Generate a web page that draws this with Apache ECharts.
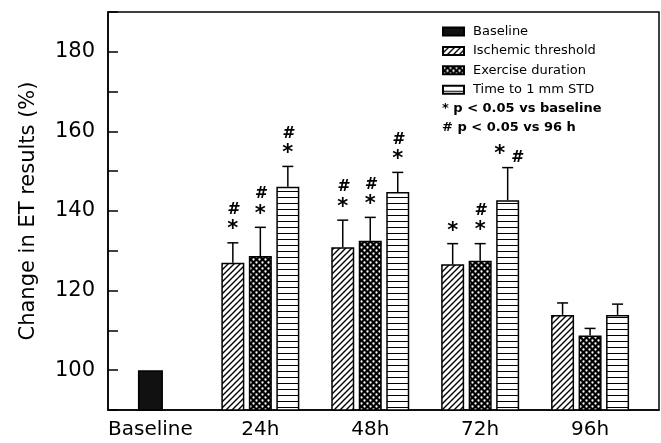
<!DOCTYPE html>
<html><head><meta charset="utf-8">
<script src="https://cdn.jsdelivr.net/npm/echarts@6/dist/echarts.min.js"></script>
<style>html,body{margin:0;padding:0;background:#fff}#c{width:661px;height:443px}</style>
</head><body><div id="c"></div>
<script>
// ---- data ----
const categories = ['Baseline', '24h', '48h', '72h', '96h'];
const seriesNames = ['Baseline', 'Ischemic threshold', 'Exercise duration', 'Time to 1 mm STD'];
const baselineValue = [100];
const ischemicValues = [127.0, 130.9, 126.6, 113.9];
const ischemicErrors = [5.0, 6.8, 5.2, 3.0];
const exerciseValues = [128.7, 132.5, 127.5, 108.7];
const exerciseErrors = [7.2, 5.9, 4.3, 1.8];
const timeValues = [146.1, 144.8, 142.7, 113.9];
const timeErrors = [5.1, 4.9, 8.2, 2.7];
// significance marks: '#*' = # above *, '*' = * only, '*#' = side by side, '' = none
const ischemicMarks = ['#*', '#*', '*', ''];
const exerciseMarks = ['#*', '#*', '#*', ''];
const timeMarks = ['#*', '#*', '*#', ''];
const yTickLabels = [100, 120, 140, 160, 180];
const noteLines = ['* p < 0.05 vs baseline', '# p < 0.05 vs 96 h'];

// ---- styles ----
const FONT = 'DejaVu Sans';
const BAR_W = 23;
const BAR_GAP = 4.5;

function makePattern(kind) {
  const c = document.createElement('canvas');
  const s = 6;
  c.width = s; c.height = s;
  const ctx = c.getContext('2d');
  ctx.fillStyle = '#fff';
  ctx.fillRect(0, 0, s, s);
  ctx.strokeStyle = '#000';
  ctx.fillStyle = '#000';
  if (kind === 'diag') {
    ctx.lineWidth = 1.4;
    ctx.beginPath();
    ctx.moveTo(-1, s + 1); ctx.lineTo(s + 1, -1);
    ctx.moveTo(-1 - s, s + 1); ctx.lineTo(1, -1);
    ctx.moveTo(s - 1, s + 1); ctx.lineTo(2 * s + 1, -1);
    ctx.stroke();
  } else if (kind === 'cross') {
    ctx.fillRect(0, 0, s, s);
    ctx.fillStyle = '#fff';
    ctx.beginPath(); ctx.arc(1.5, 1.5, 1.15, 0, Math.PI * 2); ctx.fill();
    ctx.beginPath(); ctx.arc(4.5, 4.5, 1.15, 0, Math.PI * 2); ctx.fill();
  } else if (kind === 'horiz') {
    ctx.fillRect(0, 5, s, 1.3);
  }
  return { image: c, repeat: 'repeat' };
}

const groupX = [1, 2, 3, 4];
function pairs(vals) { return vals.map((v, i) => [groupX[i], v]); }

const valueSets = [ischemicValues, exerciseValues, timeValues];
const errorSets = [ischemicErrors, exerciseErrors, timeErrors];
const markSets = [ischemicMarks, exerciseMarks, timeMarks];
const errData = [];
const errMarks = [];
valueSets.forEach((vals, s) => {
  vals.forEach((v, i) => {
    errData.push([groupX[i], v, errorSets[s][i], s]);
    errMarks.push(markSets[s][i]);
  });
});

const barBase = {
  type: 'bar',
  barWidth: BAR_W,
  barGap: (BAR_GAP / BAR_W * 100) + '%',
  clip: true,
  emphasis: { disabled: true },
  animation: false
};

const chart = echarts.init(document.getElementById('c'), null, { renderer: 'canvas' });
chart.setOption({
  animation: false,
  backgroundColor: '#fff',
  textStyle: { fontFamily: FONT, color: '#000' },
  grid: { left: 108, right: 2, top: 12, bottom: 33, show: true, borderColor: '#000', borderWidth: 1.5, backgroundColor: 'transparent' },
  legend: {
    orient: 'vertical', left: 437, top: 20,
    itemWidth: 21, itemHeight: 8, itemGap: 6.4,
    icon: 'rect',
    data: seriesNames,
    textStyle: { fontFamily: FONT, fontSize: 13, color: '#000', padding: [0, 0, 0, 4] },
    selectedMode: false
  },
  title: {
    text: noteLines.join('\n'),
    left: 437, top: 94,
    textStyle: { fontFamily: FONT, fontSize: 13, fontWeight: 'bold', color: '#000', lineHeight: 19.3 }
  },
  xAxis: [{
    type: 'value', min: -0.386, max: 4.627,
    axisLine: { show: true, onZero: false, lineStyle: { color: '#000', width: 1.5 } },
    axisTick: { show: false },
    splitLine: { show: false },
    axisLabel: {
      customValues: [0, 1, 2, 3, 4],
      formatter: v => categories[Math.round(v)],
      fontFamily: FONT, fontSize: 20, color: '#000', margin: 10
    }
  }, {
    type: 'value', min: -0.386, max: 4.627, show: false
  }],
  yAxis: {
    type: 'value', min: 90, max: 190, interval: 10,
    name: 'Change in ET results (%)', nameLocation: 'middle', nameGap: 69, nameRotate: 90,
    nameTextStyle: { fontFamily: FONT, fontSize: 21, color: '#000' },
    axisLine: { show: true, onZero: false, lineStyle: { color: '#000', width: 1.5 } },
    axisTick: { show: true, inside: true, length: 10, lineStyle: { color: '#000', width: 1.5 } },
    splitLine: { show: false },
    axisLabel: {
      formatter: v => (yTickLabels.indexOf(v) >= 0 ? String(v) : ''),
      fontFamily: FONT, fontSize: 21, color: '#000', margin: 13
    }
  },
  series: [
    Object.assign({}, barBase, { name: seriesNames[0], xAxisIndex: 1, barWidth: 25, itemStyle: { color: '#111', borderColor: '#000', borderWidth: 1.5 }, data: baselineValue.map(v => [0, v]) }),
    Object.assign({}, barBase, { name: seriesNames[1], itemStyle: { color: makePattern('diag'), borderColor: '#000', borderWidth: 1.5 }, data: pairs(ischemicValues) }),
    Object.assign({}, barBase, { name: seriesNames[2], itemStyle: { color: makePattern('cross'), borderColor: '#000', borderWidth: 1.5 }, data: pairs(exerciseValues) }),
    Object.assign({}, barBase, { name: seriesNames[3], itemStyle: { color: makePattern('horiz'), borderColor: '#000', borderWidth: 1.5 }, data: pairs(timeValues) }),
    {
      type: 'custom', name: 'errors', z: 5, clip: false, silent: true,
      data: errData,
      renderItem: function (params, api) {
        const g = api.value(0), v = api.value(1), e = api.value(2), slot = api.value(3);
        const p = api.coord([g, v]);
        const t = api.coord([g, v + e]);
        const x = p[0] + (slot - 1) * (BAR_W + BAR_GAP);
        const children = [
          { type: 'line', shape: { x1: x, y1: p[1], x2: x, y2: t[1] }, style: { stroke: '#000', lineWidth: 1.5 } },
          { type: 'line', shape: { x1: x - 5.5, y1: t[1], x2: x + 5.5, y2: t[1] }, style: { stroke: '#000', lineWidth: 1.5 } }
        ];
        const m = errMarks[params.dataIndex];
        const star = (cx, cy) => ({ type: 'text', x: cx, y: cy, style: { text: '*', font: 'bold 21px ' + FONT, fill: '#000', align: 'center', verticalAlign: 'middle' } });
        const hash = (cx, cy) => ({ type: 'text', x: cx, y: cy, style: { text: '#', font: 'italic bold 16px ' + FONT, fill: '#000', align: 'center', verticalAlign: 'middle' } });
        if (m === '#*') {
          children.push(star(x, t[1] - 13));
          children.push(hash(x, t[1] - 33));
        } else if (m === '*') {
          children.push(star(x, t[1] - 12));
        } else if (m === '*#') {
          children.push(star(x - 8, t[1] - 13));
          children.push(hash(x + 9, t[1] - 10));
        }
        return { type: 'group', children: children };
      }
    }
  ]
});
</script>
</body></html>
